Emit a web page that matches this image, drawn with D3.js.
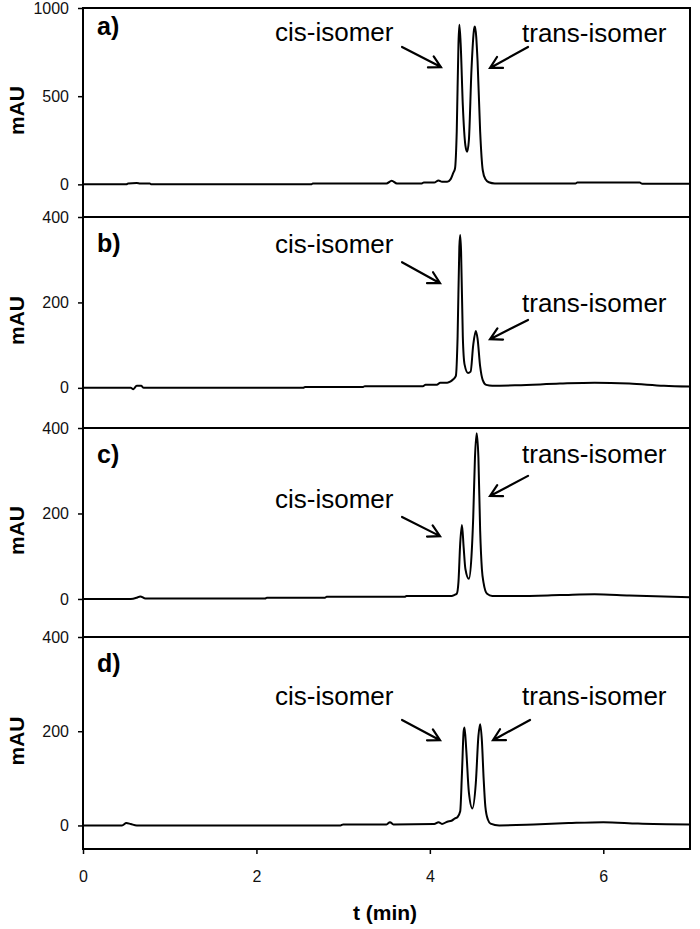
<!DOCTYPE html>
<html><head><meta charset="utf-8">
<script src="https://cdn.jsdelivr.net/npm/d3@7"></script>
<style>body{margin:0;background:#fff}</style>
</head><body>
<svg id="chart" width="700" height="929"></svg>
<script>
// ---- data ----
const panelLabels = ["a)", "b)", "c)", "d)"];
const yTicksA = [0, 500, 1000];
const yTicksBCD = [0, 200, 400];
const xTicks = [0, 2, 4, 6];
const xTitle = "t (min)";
const yTitle = "mAU";
const cisLabel = "cis-isomer";
const transLabel = "trans-isomer";

const traceA = [[0,0],[0.50,0],[0.52,5],[0.62,8],[0.66,5],[0.77,5],[0.79,0],[2.63,0],[2.65,5],[3.50,5],[3.56,20],[3.62,5],[3.90,5],[3.93,10],[4.05,10],[4.10,22],[4.14,15],[4.20,15],[4.24,30],[4.27,65],[4.29,90],[4.31,300],[4.33,800],[4.34,905],[4.355,800],[4.38,450],[4.41,220],[4.43,185],[4.45,250],[4.48,650],[4.51,880],[4.52,895],[4.55,700],[4.58,300],[4.61,80],[4.64,30],[4.68,12],[4.75,5],[5.68,5],[5.70,10],[6.42,10],[6.45,3],[7.0,3]];
const traceB = [[0,0],[0.55,0],[0.58,-3],[0.62,5],[0.67,5],[0.70,0],[2.54,0],[2.56,2],[3.23,2],[3.25,4],[3.92,4],[3.95,7],[4.08,7],[4.12,12],[4.20,12],[4.24,15],[4.27,20],[4.30,28],[4.32,120],[4.34,330],[4.35,358],[4.36,320],[4.38,120],[4.40,55],[4.44,35],[4.47,38],[4.50,100],[4.53,133],[4.55,115],[4.58,50],[4.61,18],[4.65,7],[4.72,5],[5.0,6],[5.5,10],[5.9,12],[6.3,10],[6.7,5],[7.0,3]];
const traceC = [[0,0],[0.55,0],[0.62,3],[0.66,6],[0.72,1],[2.10,1],[2.12,3],[2.79,3],[2.81,5],[3.71,5],[3.73,7],[4.25,7],[4.29,10],[4.31,12],[4.33,40],[4.35,130],[4.37,173],[4.39,120],[4.41,70],[4.45,47],[4.48,100],[4.50,190],[4.52,330],[4.54,388],[4.56,330],[4.58,160],[4.60,70],[4.62,37],[4.66,12],[4.72,7],[5.0,7],[5.5,9],[5.9,11],[6.3,8],[7.0,4]];
const traceD = [[0,0],[0.45,0],[0.50,5],[0.55,3],[0.62,0],[2.97,0],[3.00,2],[3.50,2],[3.54,7],[3.58,2],[4.05,3],[4.10,7],[4.14,3],[4.20,8],[4.25,10],[4.29,15],[4.32,18],[4.35,30],[4.37,110],[4.39,200],[4.40,208],[4.42,160],[4.45,70],[4.49,36],[4.53,90],[4.56,190],[4.58,215],[4.60,180],[4.62,100],[4.64,40],[4.67,12],[4.70,4],[4.80,0],[5.2,2],[5.6,5],[6.0,7],[6.4,4],[7.0,2]];

// annotation anchors in data units (t, mAU): text [t, v], arrow [t0, v0, t1, v1]
const cisText   = [[2.214, 813], [2.214, 316], [2.214, 213], [2.214, 256]];
const cisArrow  = [[3.679, 779, 4.128, 665], [3.679, 294, 4.117, 245], [3.679, 192, 4.117, 147], [3.679, 224, 4.117, 181]];
const transText = [[5.063, 807], [5.063, 178], [5.063, 318], [5.063, 256]];
const transArrow= [[5.132, 779, 4.694, 660], [5.132, 159, 4.694, 114], [5.132, 288, 4.694, 241], [5.155, 224, 4.728, 181]];

// ---- layout ----
const traces = [traceA, traceB, traceC, traceD];
const panels = [
  {top: 8,   bottom: 217, ymin: -185, ymax: 1000, ticks: yTicksA},
  {top: 217, bottom: 428, ymin: -94,  ymax: 400,  ticks: yTicksBCD},
  {top: 428, bottom: 637, ymin: -89,  ymax: 400,  ticks: yTicksBCD},
  {top: 637, bottom: 849, ymin: -50,  ymax: 400,  ticks: yTicksBCD}
];
const left = 83, right = 690;
const svg = d3.select("#chart");
const x = d3.scaleLinear().domain([0, 7]).range([left, right]);
const tickFont = "Liberation Sans, Arial, sans-serif";

panels.forEach((p, i) => {
  const y = d3.scaleLinear().domain([p.ymin, p.ymax]).range([p.bottom, p.top]);
  const g = svg.append("g");
  // y axis
  const ax = g.append("g").attr("transform", `translate(${left},0)`)
    .call(d3.axisLeft(y).tickValues(p.ticks).tickSize(5).tickPadding(9).tickFormat(d3.format("d")));
  ax.select(".domain").remove();
  ax.selectAll("line").attr("stroke", "#000").attr("stroke-width", 1.5);
  ax.selectAll("text").attr("font-family", tickFont).attr("font-size", 16).attr("fill", "#111");

  // trace
  const line = d3.line().x(d => x(d[0])).y(d => y(d[1])).curve(d3.curveMonotoneX);
  g.append("path").datum(traces[i]).attr("d", line)
    .attr("fill", "none").attr("stroke", "#000").attr("stroke-width", 2).attr("stroke-linejoin", "round");

  // panel frame
  g.append("rect").attr("x", left).attr("y", p.top).attr("width", right - left).attr("height", p.bottom - p.top)
    .attr("fill", "none").attr("stroke", "#000").attr("stroke-width", 2);

  // panel letter
  g.append("text").attr("x", left + 14).attr("y", p.top + (i === 0 ? 27 : 35))
    .attr("font-family", tickFont).attr("font-weight", "bold").attr("font-size", 25).text(panelLabels[i]);

  // y title
  const cy = (y(p.ymax) + y(p.ymin)) / 2 - 2;
  g.append("text").attr("transform", `translate(24,${cy}) rotate(-90)`).attr("text-anchor", "middle")
    .attr("font-family", tickFont).attr("font-weight", "bold").attr("font-size", 21).text(yTitle);

  // annotations
  const annFont = 26;
  g.append("text").attr("x", x(cisText[i][0])).attr("y", y(cisText[i][1]))
    .attr("font-family", tickFont).attr("font-size", annFont).text(cisLabel);
  g.append("text").attr("x", x(transText[i][0])).attr("y", y(transText[i][1]))
    .attr("font-family", tickFont).attr("font-size", annFont).text(transLabel);

  [cisArrow[i], transArrow[i]].forEach(a => {
    const x0 = x(a[0]), y0 = y(a[1]), x1 = x(a[2]), y1 = y(a[3]);
    const ang = Math.atan2(y1 - y0, x1 - x0);
    const hl = 13, spread = 0.5;
    const p1 = [x1 - hl * Math.cos(ang - spread), y1 - hl * Math.sin(ang - spread)];
    const p2 = [x1 - hl * Math.cos(ang + spread), y1 - hl * Math.sin(ang + spread)];
    g.append("path").attr("d", `M${x0},${y0}L${x1},${y1}M${p1[0]},${p1[1]}L${x1},${y1}L${p2[0]},${p2[1]}`)
      .attr("fill", "none").attr("stroke", "#000").attr("stroke-width", 2.2).attr("stroke-linecap", "round");
  });
});

// x axis
const xa = svg.append("g").attr("transform", `translate(0,${panels[3].bottom})`)
  .call(d3.axisBottom(x).tickValues(xTicks).tickSize(5).tickPadding(17).tickFormat(d3.format("d")));
xa.select(".domain").remove();
xa.selectAll("line").attr("stroke", "#000").attr("stroke-width", 1.5);
xa.selectAll("text").attr("font-family", tickFont).attr("font-size", 16).attr("fill", "#111");

svg.append("text").attr("x", 385).attr("y", 920).attr("text-anchor", "middle")
  .attr("font-family", tickFont).attr("font-weight", "bold").attr("font-size", 21).text(xTitle);
</script>
</body></html>
